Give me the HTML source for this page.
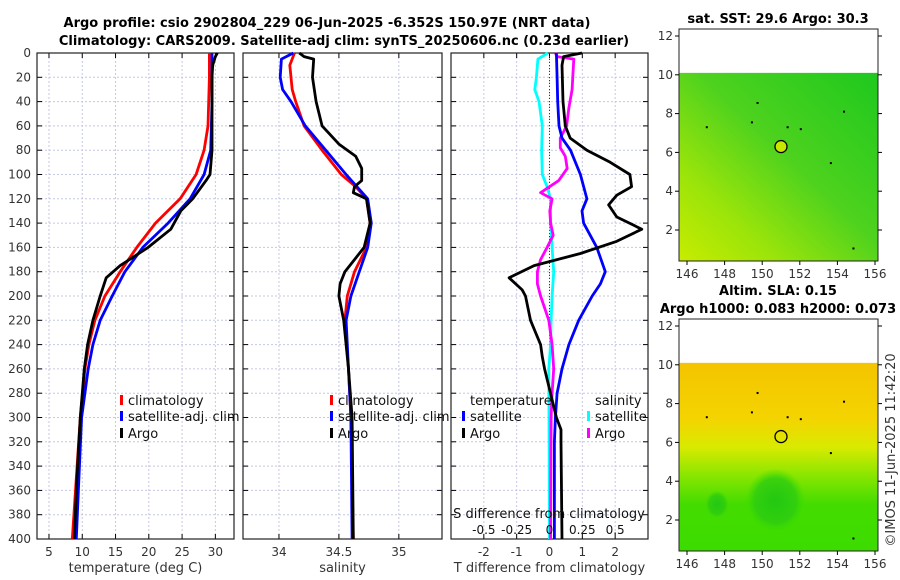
<!DOCTYPE html>
<html><head><meta charset="utf-8">
<style>
body{margin:0;background:#fff;}
svg{display:block;font-family:"DejaVu Sans","Liberation Sans",sans-serif;}
.t{font-size:12px;fill:#333;}
.ttl{font-size:13px;font-weight:bold;fill:#000;}
</style></head>
<body>
<svg id="fig" width="900" height="580" viewBox="0 0 900 580" xmlns="http://www.w3.org/2000/svg">
<defs>
<linearGradient id="sstg" x1="1" y1="0" x2="0" y2="1">
<stop offset="0" stop-color="#1ec81e"/><stop offset="0.45" stop-color="#4ed21e"/><stop offset="0.75" stop-color="#9ae40a"/><stop offset="1" stop-color="#c8ec00"/>
</linearGradient>
<linearGradient id="slag" x1="0" y1="0" x2="0" y2="1">
<stop offset="0" stop-color="#f4c400"/><stop offset="0.3" stop-color="#f4d400"/><stop offset="0.45" stop-color="#d8ea00"/><stop offset="0.6" stop-color="#88e600"/><stop offset="0.75" stop-color="#44dc00"/><stop offset="1" stop-color="#3cdc00"/>
</linearGradient>
<radialGradient id="blob" cx="0.5" cy="0.5" r="0.5">
<stop offset="0" stop-color="#22c811"/><stop offset="0.7" stop-color="#2ccc11" stop-opacity="0.8"/><stop offset="1" stop-color="#3cdc00" stop-opacity="0"/>
</radialGradient>
</defs>
<text class="ttl" x="327" y="27" text-anchor="middle">Argo profile: csio 2902804_229 06-Jun-2025 -6.352S 150.97E (NRT data)</text>
<text class="ttl" x="344" y="45" text-anchor="middle">Climatology: CARS2009. Satellite-adj clim: synTS_20250606.nc (0.23d earlier)</text>
<g id="p1"></g>
<g id="p2"></g>
<g id="p3"></g>
<g id="maps"></g>
<text class="t" transform="translate(895,450) rotate(-90)" text-anchor="middle" style="font-size:13px">©IMOS 11-Jun-2025 11:42:20</text>
</svg>
<script>
// ---- data ----
const depthTicks = [0,20,40,60,80,100,120,140,160,180,200,220,240,260,280,300,320,340,360,380,400];
const climZ = [0,20,40,60,80,100,120,140,160,180,200,220,240,260,300,350,400];
const climT = [29.1,29.1,29.0,28.9,28.3,27.1,24.7,21.0,18.2,15.7,13.4,11.9,11.0,10.4,9.7,9.1,8.5];
const satT = [29.5,29.5,29.5,29.4,29.3,28.3,26.2,22.9,19.1,16.4,14.5,12.7,11.6,10.9,9.9,9.5,9.1];
const argoZ = [0,3,10,20,40,60,80,100,105,120,130,145,160,175,185,200,220,240,260,300,350,400];
const argoT = [30.3,30.0,29.6,29.5,29.5,29.5,29.5,29.2,28.6,26.6,24.8,23.3,19.9,15.7,13.6,12.7,11.6,10.8,10.3,9.7,9.2,8.8];
const climSZ = [0,10,30,40,60,80,100,110,120,140,160,180,200,220,260,300,400];
const climS = [34.13,34.09,34.11,34.14,34.21,34.36,34.52,34.64,34.73,34.76,34.73,34.63,34.57,34.55,34.58,34.60,34.62];
const satSZ = [0,5,20,30,40,60,80,100,110,120,140,160,180,200,220,260,300,400];
const satS = [34.12,34.02,34.01,34.03,34.10,34.22,34.39,34.56,34.65,34.74,34.77,34.74,34.67,34.60,34.56,34.58,34.60,34.61];
const argoSZ = [0,3,5,20,40,60,75,85,95,105,110,115,120,140,160,170,180,190,200,220,260,300,400];
const argoS = [34.17,34.21,34.29,34.28,34.31,34.36,34.50,34.64,34.69,34.69,34.63,34.62,34.73,34.76,34.71,34.63,34.55,34.51,34.50,34.54,34.58,34.61,34.62];
const dSatTZ = [0,20,40,60,70,80,100,120,130,140,160,180,190,200,220,240,260,280,300,320,400];
const dSatT = [0.21,0.23,0.25,0.29,0.38,0.64,0.94,1.14,0.99,1.04,1.44,1.70,1.55,1.30,0.89,0.59,0.38,0.23,0.18,0.15,0.15];
const dArgoTZ = [0,3,10,40,60,70,80,90,100,110,117,125,135,145,155,165,175,185,195,200,220,240,250,260,280,300,310,320,400];
const dArgoT = [0.99,0.43,0.38,0.41,0.48,0.63,1.14,1.85,2.45,2.5,2.05,1.8,2.05,2.81,2.05,0.94,-0.47,-1.23,-0.83,-0.73,-0.58,-0.27,-0.22,-0.15,0.03,0.21,0.35,0.35,0.38];
const dSatSZ = [0,5,20,30,40,60,80,100,110,120,140,160,180,200,220,240,260,400];
const dSatS = [-0.012,-0.088,-0.100,-0.112,-0.080,-0.055,-0.060,-0.055,-0.018,0.008,0.008,0.020,0.032,0.020,0.012,0.008,-0.005,0];
const dArgoSZ = [0,3,5,15,30,45,60,70,78,85,95,105,115,120,130,140,150,160,170,180,190,200,220,240,260,280,300,400];
const dArgoS = [0.045,0.058,0.185,0.180,0.172,0.148,0.130,0.082,0.082,0.120,0.135,0.070,-0.068,0.020,0.002,0.008,0.028,-0.018,-0.068,-0.092,-0.092,-0.068,-0.005,0.020,0.032,0.020,0.012,0.008];
const tTicks = [5,10,15,20,25,30];
const sTicks = [34,34.5,35];
const dTTicks = [-2,-1,0,1,2];
const dSTicks = [-0.5,-0.25,0,0.25,0.5];
const lonTicks = [146,148,150,152,154,156];
const latTicks = [2,4,6,8,10,12];

const NS="http://www.w3.org/2000/svg";
function mk(tag,attrs,parent,txt){const e=document.createElementNS(NS,tag);for(const k in attrs)e.setAttribute(k,attrs[k]);if(txt!==undefined)e.textContent=txt;parent.appendChild(e);return e;}
const TOP=53,BOT=539;
const yD=d=>TOP+(BOT-TOP)*d/400;

function panel(g,x0,x1,xmin,xmax,xt,fmt,label,ylabels){
  const sx=v=>x0+(x1-x0)*(v-xmin)/(xmax-xmin);
  depthTicks.forEach(d=>{
    const l=mk('line',{x1:x0,x2:x1,y1:yD(d),y2:yD(d),stroke:'#c4c8e4','stroke-dasharray':'2,2','stroke-width':1},g);
    
    mk('line',{x1:x0,x2:x0+5,y1:yD(d),y2:yD(d),stroke:'#000'},g);
    mk('line',{x1:x1-5,x2:x1,y1:yD(d),y2:yD(d),stroke:'#000'},g);
    if(ylabels){const t=mk('text',{class:'t',x:x0-6,y:yD(d)+4,'text-anchor':'end'},g,String(d));
      }
  });
  xt.forEach(v=>{
    const l=mk('line',{x1:sx(v),x2:sx(v),y1:TOP,y2:BOT,stroke:'#c4c8e4','stroke-dasharray':'2,2'},g);
    
    mk('line',{x1:sx(v),x2:sx(v),y1:BOT-5,y2:BOT,stroke:'#000'},g);
    mk('line',{x1:sx(v),x2:sx(v),y1:TOP,y2:TOP+5,stroke:'#000'},g);
    const t=mk('text',{class:'t',x:sx(v),y:BOT+17,'text-anchor':'middle'},g,fmt(v));
    
  });
  const r=mk('rect',{x:x0,y:TOP,width:x1-x0,height:BOT-TOP,fill:'none',stroke:'#222','stroke-width':1.2},g);
  
  const lt=mk('text',{class:'t',x:(x0+x1)/2,y:BOT+33,'text-anchor':'middle',style:'font-size:13px'},g,label);
  
  return sx;
}
function line(g,sx,zs,vs,col,name){
  const pts=zs.map((z,i)=>sx(vs[i]).toFixed(1)+','+yD(z).toFixed(1)).join(' ');
  const p=mk('polyline',{points:pts,fill:'none',stroke:col,'stroke-width':2.8,'stroke-linejoin':'round'},g);
  
}
function legend(g,x,y,col,txt){
  const r=mk('rect',{x:x,y:y-10,width:3,height:10,fill:col},g);
  
  const t=mk('text',{class:'t',x:x+8,y:y,style:'font-size:13px;fill:#111'},g,txt);
  
}
// panel 1
const g1=document.getElementById('p1');
const sx1=panel(g1,37,234,3.2,32.8,tTicks,String,'temperature (deg C)',true);
line(g1,sx1,climZ,climT,'#ff0000','climatology-temperature-line');
line(g1,sx1,climZ,satT,'#0000ff','satellite-temperature-line');
line(g1,sx1,argoZ,argoT,'#000','argo-temperature-line');
legend(g1,120,405,'#f00','climatology');legend(g1,120,421,'#00f','satellite-adj. clim');legend(g1,120,438,'#000','Argo');
// panel 2
const g2=document.getElementById('p2');
const sx2=panel(g2,243,442,33.7,35.36,sTicks,String,'salinity',false);
line(g2,sx2,climSZ,climS,'#ff0000','climatology-salinity-line');
line(g2,sx2,satSZ,satS,'#0000ff','satellite-salinity-line');
line(g2,sx2,argoSZ,argoS,'#000','argo-salinity-line');
legend(g2,330,405,'#f00','climatology');legend(g2,330,421,'#00f','satellite-adj. clim');legend(g2,330,438,'#000','Argo');
// panel 3
const g3=document.getElementById('p3');
const sx3=panel(g3,451,648,-3,3,dTTicks,String,'T difference from climatology',false);
const zl=mk('line',{x1:sx3(0),x2:sx3(0),y1:TOP,y2:BOT,stroke:'#333','stroke-dasharray':'1,2'},g3);

const sxS=v=>sx3(v*4);
line(g3,sxS,dSatSZ,dSatS,'#00ffff','salinity-satellite-diff-line');
line(g3,sxS,dArgoSZ,dArgoS,'#ff00ff','salinity-argo-diff-line');
line(g3,sx3,dSatTZ,dSatT,'#0000ff','temperature-satellite-diff-line');
line(g3,sx3,dArgoTZ,dArgoT,'#000','temperature-argo-diff-line');
let st=mk('text',{class:'t',x:549,y:518,'text-anchor':'middle',style:'font-size:13px;fill:#111'},g3,'S difference from climatology');

dSTicks.forEach(v=>{const t=mk('text',{class:'t',x:sxS(v),y:534,'text-anchor':'middle',style:'fill:#111'},g3,String(v));
  });
let tl=mk('text',{class:'t',x:470,y:405,style:'font-size:13px;fill:#111'},g3,'temperature');

let sl=mk('text',{class:'t',x:595,y:405,style:'font-size:13px;fill:#111'},g3,'salinity');

legend(g3,462,421,'#00f','satellite');legend(g3,462,438,'#000','Argo');
legend(g3,587,421,'#0ff','satellite');legend(g3,587,438,'#f0f','Argo');

// maps
const gm=document.getElementById('maps');
function map(y0,title,fill,extra){
  const X0=679,X1=878,Y1=y0+232;
  const sxl=v=>687+(v-146)*18.8, syl=v=>y0+7+(12-v)*19.4;
  const d=mk('rect',{x:X0,y:syl(10.1),width:X1-X0,height:Y1-syl(10.1),fill:fill},gm);
  
  if(extra)extra(sxl,syl);
  [[151.3,7.35],[152,7.25],[154.3,8.15],[149.7,8.6],[147,7.35],[149.4,7.6],[153.6,5.5],[154.8,1.1]].forEach(p=>{
    const s=mk('rect',{x:sxl(p[0]),y:syl(p[1]),width:2,height:2,fill:'#000'},gm);
    });
  const c=mk('circle',{cx:sxl(151),cy:syl(6.3),r:6,fill:extra?'none':'#c8e800',stroke:'#000','stroke-width':1.3},gm);
  
  const r=mk('rect',{x:X0,y:y0,width:X1-X0,height:Y1-y0,fill:'none',stroke:'#222'},gm);
  
  lonTicks.forEach(v=>{mk('line',{x1:sxl(v),x2:sxl(v),y1:Y1,y2:Y1+4,stroke:'#000'},gm);
    const t=mk('text',{class:'t',x:sxl(v),y:Y1+17,'text-anchor':'middle'},gm,String(v));
    });
  latTicks.forEach(v=>{mk('line',{x1:X0-4,x2:X0,y1:syl(v),y2:syl(v),stroke:'#000'},gm);
    mk('line',{x1:X1,x2:X1+4,y1:syl(v),y2:syl(v),stroke:'#000'},gm);
    const t=mk('text',{class:'t',x:X0-6,y:syl(v)+4,'text-anchor':'end'},gm,String(v));
    });
  title.forEach((s,i)=>{const t=mk('text',{class:'ttl',x:778,y:y0-6-(title.length-1-i)*18,'text-anchor':'middle'},gm,s);
    });
}
map(29,['sat. SST: 29.6 Argo: 30.3'],'url(#sstg)');
map(319,['Altim. SLA: 0.15','Argo h1000: 0.083 h2000: 0.073'],'url(#slag)',(sxl,syl)=>{
  const e=mk('ellipse',{cx:sxl(150.7),cy:syl(3),rx:30,ry:32,fill:'url(#blob)'},gm);
  
  const e2=mk('ellipse',{cx:sxl(147.6),cy:syl(2.8),rx:12,ry:14,fill:'url(#blob)'},gm);
  
});
</script>
</body></html>
